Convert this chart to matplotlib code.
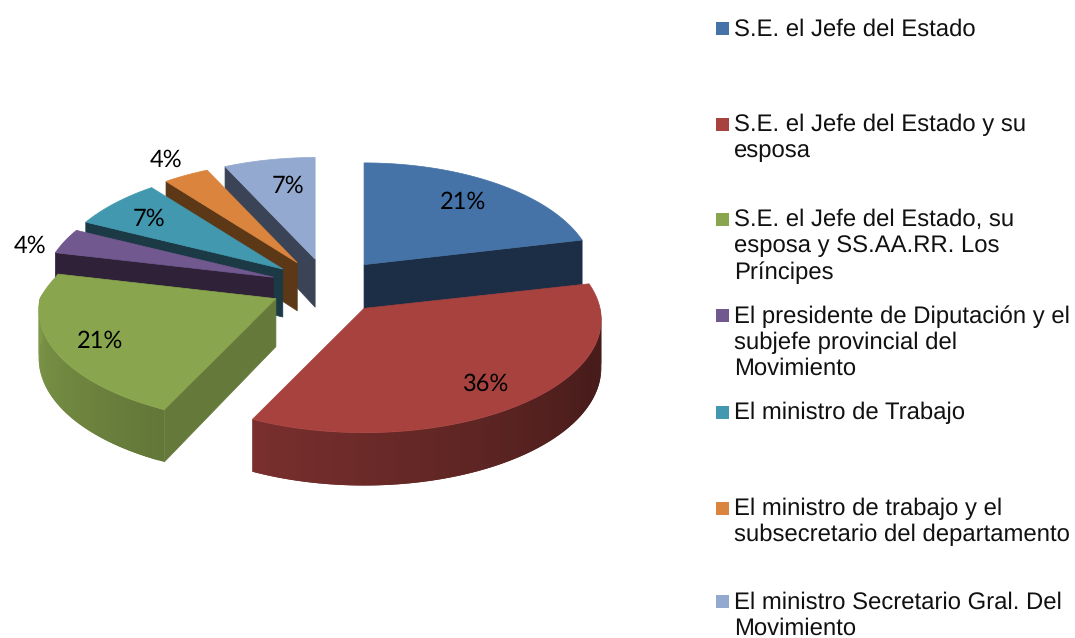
import numpy as np
import matplotlib
matplotlib.use('Agg')
import matplotlib.pyplot as plt

plt.rcParams['text.hinting'] = 'no_hinting'

# values read as counts, the percent labels come out of these
counts = [6, 10, 6, 1, 2, 1, 2]
names = ['S.E. el Jefe del Estado',
         'S.E. el Jefe del Estado y su\nesposa',
         'S.E. el Jefe del Estado, su\nesposa y SS.AA.RR. Los\nPríncipes',
         'El presidente de Diputación y el\nsubjefe provincial del\nMovimiento',
         'El ministro de Trabajo',
         'El ministro de trabajo y el\nsubsecretario del departamento',
         'El ministro Secretario Gral. Del\nMovimiento']
colors = ['#4573a7', '#a8423f', '#89a54e', '#71588f', '#4198af', '#db843d', '#93a9cf']
side_colors = ['#1c2e45', '#451b19', '#65793b', '#2e2138', '#1b3a45', '#5c3817', '#3a4456']

# how far along the radius each percent label sits, plus small pixel nudges
label_frac = [0.75, 0.77, 0.80, 1.13, 0.78, 1.17, 0.70]
nudge_x = [-5, 2, 0, -1, 3, 1, 7]
nudge_y = [0, 4, 2, 9, 2, -2, -1]
legend_y = [28, 124, 219, 315, 412, 508, 601]

# pie geometry in pixels
CX, CY = 328, 286.5
EXPLODE_X, EXPLODE_Y = 57.8, 28
RX, RY = 236, 113
PERSP = 0.10
BACK_TRIM = 0.03
DEPTH = 48

fig = plt.figure(figsize=(10.75, 6.38), dpi=100)
ax = fig.add_axes([0, 0, 1, 1])
ax.set_xlim(0, 1075)
ax.set_ylim(638, 0)
ax.axis('off')


def rim(apex, theta, frac=1.0, trim=BACK_TRIM):
    # point on a slice rim, theta in degrees clockwise from 12 o'clock
    t = np.radians(theta)
    u, v = np.sin(t) * frac, np.cos(t) * frac
    s = 1 - PERSP * v
    # the far half of the pie looks a bit narrower than plain perspective
    sx = s - trim * np.clip(v / 0.2, 0, 1)
    return apex[0] + RX * u * sx, apex[1] - RY * v * s, DEPTH * s


def shade(color, f):
    rgb = np.array(matplotlib.colors.to_rgb(color))
    return tuple(rgb * f)


def rim_factor(theta):
    return np.clip(0.72 + (theta - 205) * 0.00316, 0.42, 1.0)


total = np.sum(counts)
edges = np.concatenate([[0], np.cumsum(counts)]) / total * 360
slices = []
for i in range(len(counts)):
    mid = np.radians((edges[i] + edges[i + 1]) / 2)
    apex = (CX + EXPLODE_X * np.sin(mid), CY - EXPLODE_Y * np.cos(mid))
    slices.append(apex)

# back to front so the nearer slices cover the others
for i in [6, 5, 4, 3, 0, 2, 1]:
    apex = slices[i]
    start, end = edges[i], edges[i + 1]
    trim = 0 if i == 1 else BACK_TRIM

    # flat cut faces
    for theta, normal in [(start, start - 90), (end, end + 90)]:
        if np.cos(np.radians(normal)) < -0.01:
            x, y, d = rim(apex, theta, trim=trim)
            ax.fill([apex[0], x, x, apex[0]], [apex[1], y, y + d, apex[1] + DEPTH],
                    color=side_colors[i], lw=0.5)

    # outer wall, overlapping strips for the gradient
    lo, hi = max(start, 90), min(end, 272)
    if hi > lo:
        steps = np.linspace(lo, hi, int((hi - lo) / 1.5) + 2)
        for j in range(len(steps) - 1):
            a, b = steps[j], steps[min(j + 2, len(steps) - 1)]
            arc = np.linspace(a, b, 4)
            pts = [rim(apex, t, trim=trim) for t in arc]
            xs = [p[0] for p in pts]
            top = [p[1] for p in pts]
            bottom = [p[1] + p[2] for p in pts]
            c = shade(colors[i], rim_factor(steps[j]))
            ax.fill(xs + xs[::-1], top + bottom[::-1], color=c, lw=0)

    # top face
    thetas = np.linspace(start, end, 80)
    pts = [rim(apex, t, trim=trim) for t in thetas]
    ax.fill([apex[0]] + [p[0] for p in pts], [apex[1]] + [p[1] for p in pts],
            color=colors[i], lw=0.5)

# percent labels
for i in range(len(counts)):
    mid = (edges[i] + edges[i + 1]) / 2
    x, y, _ = rim(slices[i], mid, label_frac[i], trim=0)
    ax.text(x + nudge_x[i], y + nudge_y[i], '%d%%' % round(100 * counts[i] / total),
            fontsize=17, family='Lato', color='black', ha='center', va='center', zorder=50)

# legend
for i in range(len(counts)):
    y = legend_y[i]
    ax.fill([716, 729, 729, 716], [y - 6.5, y - 6.5, y + 6.5, y + 6.5], color=colors[i], lw=0)
    ax.text(734, y - 10, names[i], fontsize=17.2, family='Liberation Sans', color='#111111',
            ha='left', va='top', linespacing=1.21)

fig.savefig('out.png', dpi=100)
